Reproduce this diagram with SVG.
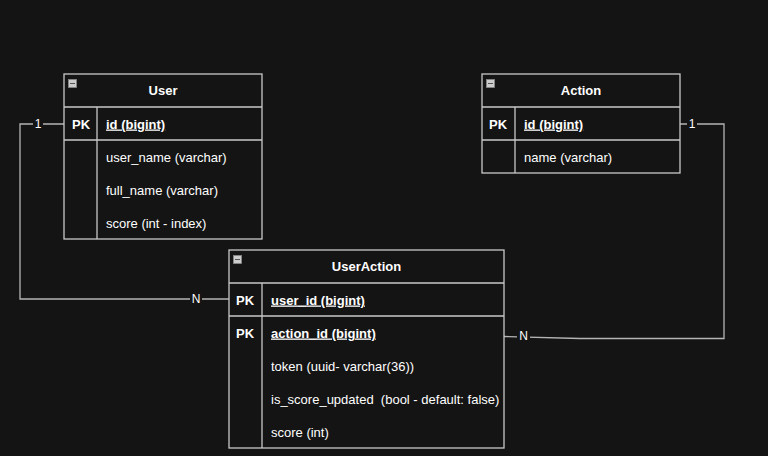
<svg xmlns="http://www.w3.org/2000/svg" width="768" height="456" viewBox="0 0 768 456">
<style>
.bg{fill:#141414}
.box{fill:#141414;stroke:#c8c8c8;stroke-width:1.3}
.ln{stroke:#c8c8c8;stroke-width:1.3;fill:none}
.conn{stroke:#b4b4b4;stroke-width:1.3;fill:none}
.t{font-family:"Liberation Sans",Arial,sans-serif;font-size:13px;fill:#ffffff}
.b{font-weight:bold}
.h{font-family:"Liberation Sans",Arial,sans-serif;font-size:13px;font-weight:bold;fill:#ffffff;text-anchor:middle}
.u{text-decoration:underline}
.lbl{font-family:"Liberation Sans",Arial,sans-serif;font-size:12px;fill:#ffffff;text-anchor:middle}
.icon{fill:#cccccc;stroke:#888888;stroke-width:0.8}
</style>
<rect class="bg" x="0" y="0" width="768" height="456"/>
<g id="connectors">
<polyline class="conn" points="64,124 20,124 20,299 229,299"/>
<rect x="33" y="117" width="10" height="14" fill="#141414"/>
<text class="lbl" x="38" y="128">1</text>
<rect x="190" y="292" width="12" height="14" fill="#141414"/>
<text class="lbl" x="196" y="303">N</text>
<polyline class="conn" points="680,124 724,124 724,338.5 580,338.5 504,336.5"/>
<rect x="687" y="117" width="10" height="14" fill="#141414"/>
<text class="lbl" x="692" y="128">1</text>
<rect x="517" y="329" width="13" height="14" fill="#141414"/>
<text class="lbl" x="523.5" y="340">N</text>
</g>
<g id="User">
<rect class="box" x="64" y="74" width="198" height="165"/>
<rect class="icon" x="68.5" y="79.5" width="8" height="8"/>
<line x1="70" y1="83.5" x2="75" y2="83.5" stroke="#555" stroke-width="1"/>
<text class="h" x="163" y="95">User</text>
<line class="ln" x1="64" y1="107" x2="262" y2="107"/>
<line class="ln" x1="64" y1="140" x2="262" y2="140"/>
<line class="ln" x1="97" y1="107" x2="97" y2="239"/>
<text class="t b" x="72" y="128.5">PK</text>
<text class="t b u" x="106" y="128.5">id (bigint)</text>
<text class="t" x="106" y="161.5">user_name (varchar)</text>
<text class="t" x="106" y="194.5">full_name (varchar)</text>
<text class="t" x="106" y="227.5">score (int - index)</text>
</g>
<g id="Action">
<rect class="box" x="482" y="74" width="198" height="99"/>
<rect class="icon" x="486.5" y="79.5" width="8" height="8"/>
<line x1="488" y1="83.5" x2="493" y2="83.5" stroke="#555" stroke-width="1"/>
<text class="h" x="581" y="95">Action</text>
<line class="ln" x1="482" y1="107" x2="680" y2="107"/>
<line class="ln" x1="482" y1="140" x2="680" y2="140"/>
<line class="ln" x1="515" y1="107" x2="515" y2="173"/>
<text class="t b" x="489" y="128.5">PK</text>
<text class="t b u" x="524" y="128.5">id (bigint)</text>
<text class="t" x="524" y="161.5">name (varchar)</text>
</g>
<g id="UserAction">
<rect class="box" x="229" y="250" width="275" height="198"/>
<rect class="icon" x="233.5" y="255.5" width="8" height="8"/>
<line x1="235" y1="259.5" x2="240" y2="259.5" stroke="#555" stroke-width="1"/>
<text class="h" x="366.5" y="271">UserAction</text>
<line class="ln" x1="229" y1="283" x2="504" y2="283"/>
<line class="ln" x1="229" y1="316" x2="504" y2="316"/>
<line class="ln" x1="262" y1="283" x2="262" y2="448"/>
<text class="t b" x="236" y="304.5">PK</text>
<text class="t b u" x="271" y="304.5">user_id (bigint)</text>
<text class="t b" x="236" y="337.5">PK</text>
<text class="t b u" x="271" y="337.5">action_id (bigint)</text>
<text class="t" x="271" y="370.5">token (uuid- varchar(36))</text>
<text class="t" x="271" y="403.5" xml:space="preserve">is_score_updated  (bool - default: false)</text>
<text class="t" x="271" y="436.5">score (int)</text>
</g>
</svg>
